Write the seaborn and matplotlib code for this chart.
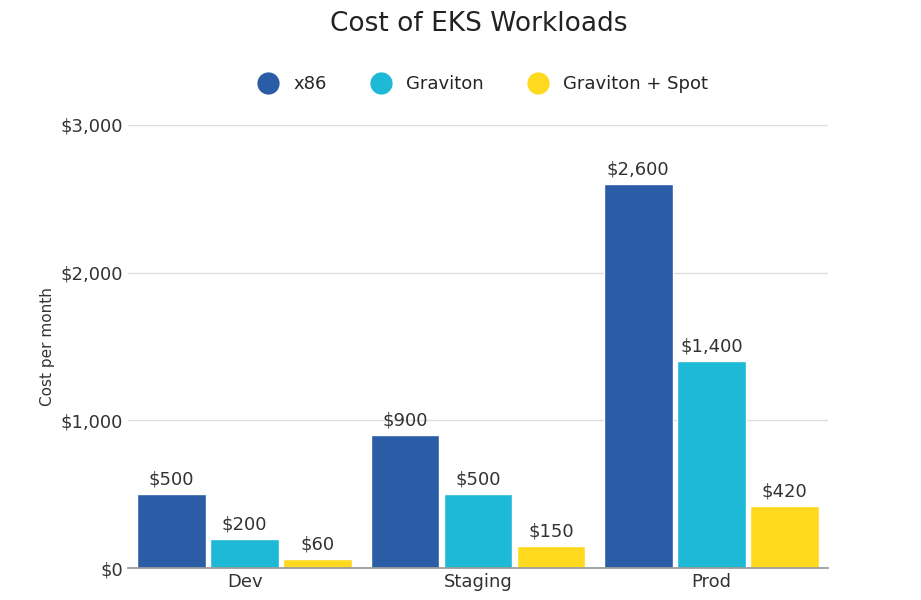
import matplotlib.pyplot as plt
import seaborn as sns
import pandas as pd
from matplotlib.ticker import FuncFormatter

categories = ["Dev", "Staging", "Prod"]
series = ["x86", "Graviton", "Graviton + Spot"]
x86 = [500, 900, 2600]
graviton = [200, 500, 1400]
graviton_spot = [60, 150, 420]
colors = ["#2B5CA6", "#1DB9D6", "#FFD91E"]

rows = []
for name, vals in zip(series, [x86, graviton, graviton_spot]):
    for c, v in zip(categories, vals):
        rows.append({"env": c, "series": name, "cost": v})
df = pd.DataFrame(rows)

sns.set_theme(style="whitegrid")
fig = plt.figure(figsize=(9.21, 6), dpi=100)
ax = fig.add_axes([0.139, 0.053, 0.76, 0.739])
sns.barplot(data=df, x="env", y="cost", hue="series", palette=colors,
            width=0.94, gap=0.06, saturation=1, ax=ax, legend=False)

for cont in ax.containers:
    ax.bar_label(cont, labels=[f"${v:,.0f}" for v in cont.datavalues],
                 padding=4, fontsize=13, color="#333333")

ax.set_ylim(0, 3000)
ax.set_yticks([0, 1000, 2000, 3000])
ax.yaxis.set_major_formatter(FuncFormatter(lambda v, _: f"${v:,.0f}"))
ax.set_xlabel("")
ax.set_ylabel("Cost per month", fontsize=11, color="#333333")
ax.tick_params(labelsize=13, colors="#333333", length=0)
ax.grid(axis="x", visible=False)
ax.grid(axis="y", color="#dddddd")
for s in ["top", "right", "left"]:
    ax.spines[s].set_visible(False)
ax.spines["bottom"].set_color("#999999")

fig.text(0.52, 0.96, "Cost of EKS Workloads", ha="center", va="center",
         fontsize=19, color="#222222")
handles = [plt.Line2D([], [], marker="o", ls="", markersize=15, color=c) for c in colors]
fig.legend(handles, series, loc="center", bbox_to_anchor=(0.52, 0.86), ncol=3,
           frameon=False, fontsize=13, handletextpad=0.4, columnspacing=2)

fig.savefig("out.png", dpi=100, facecolor="white")
